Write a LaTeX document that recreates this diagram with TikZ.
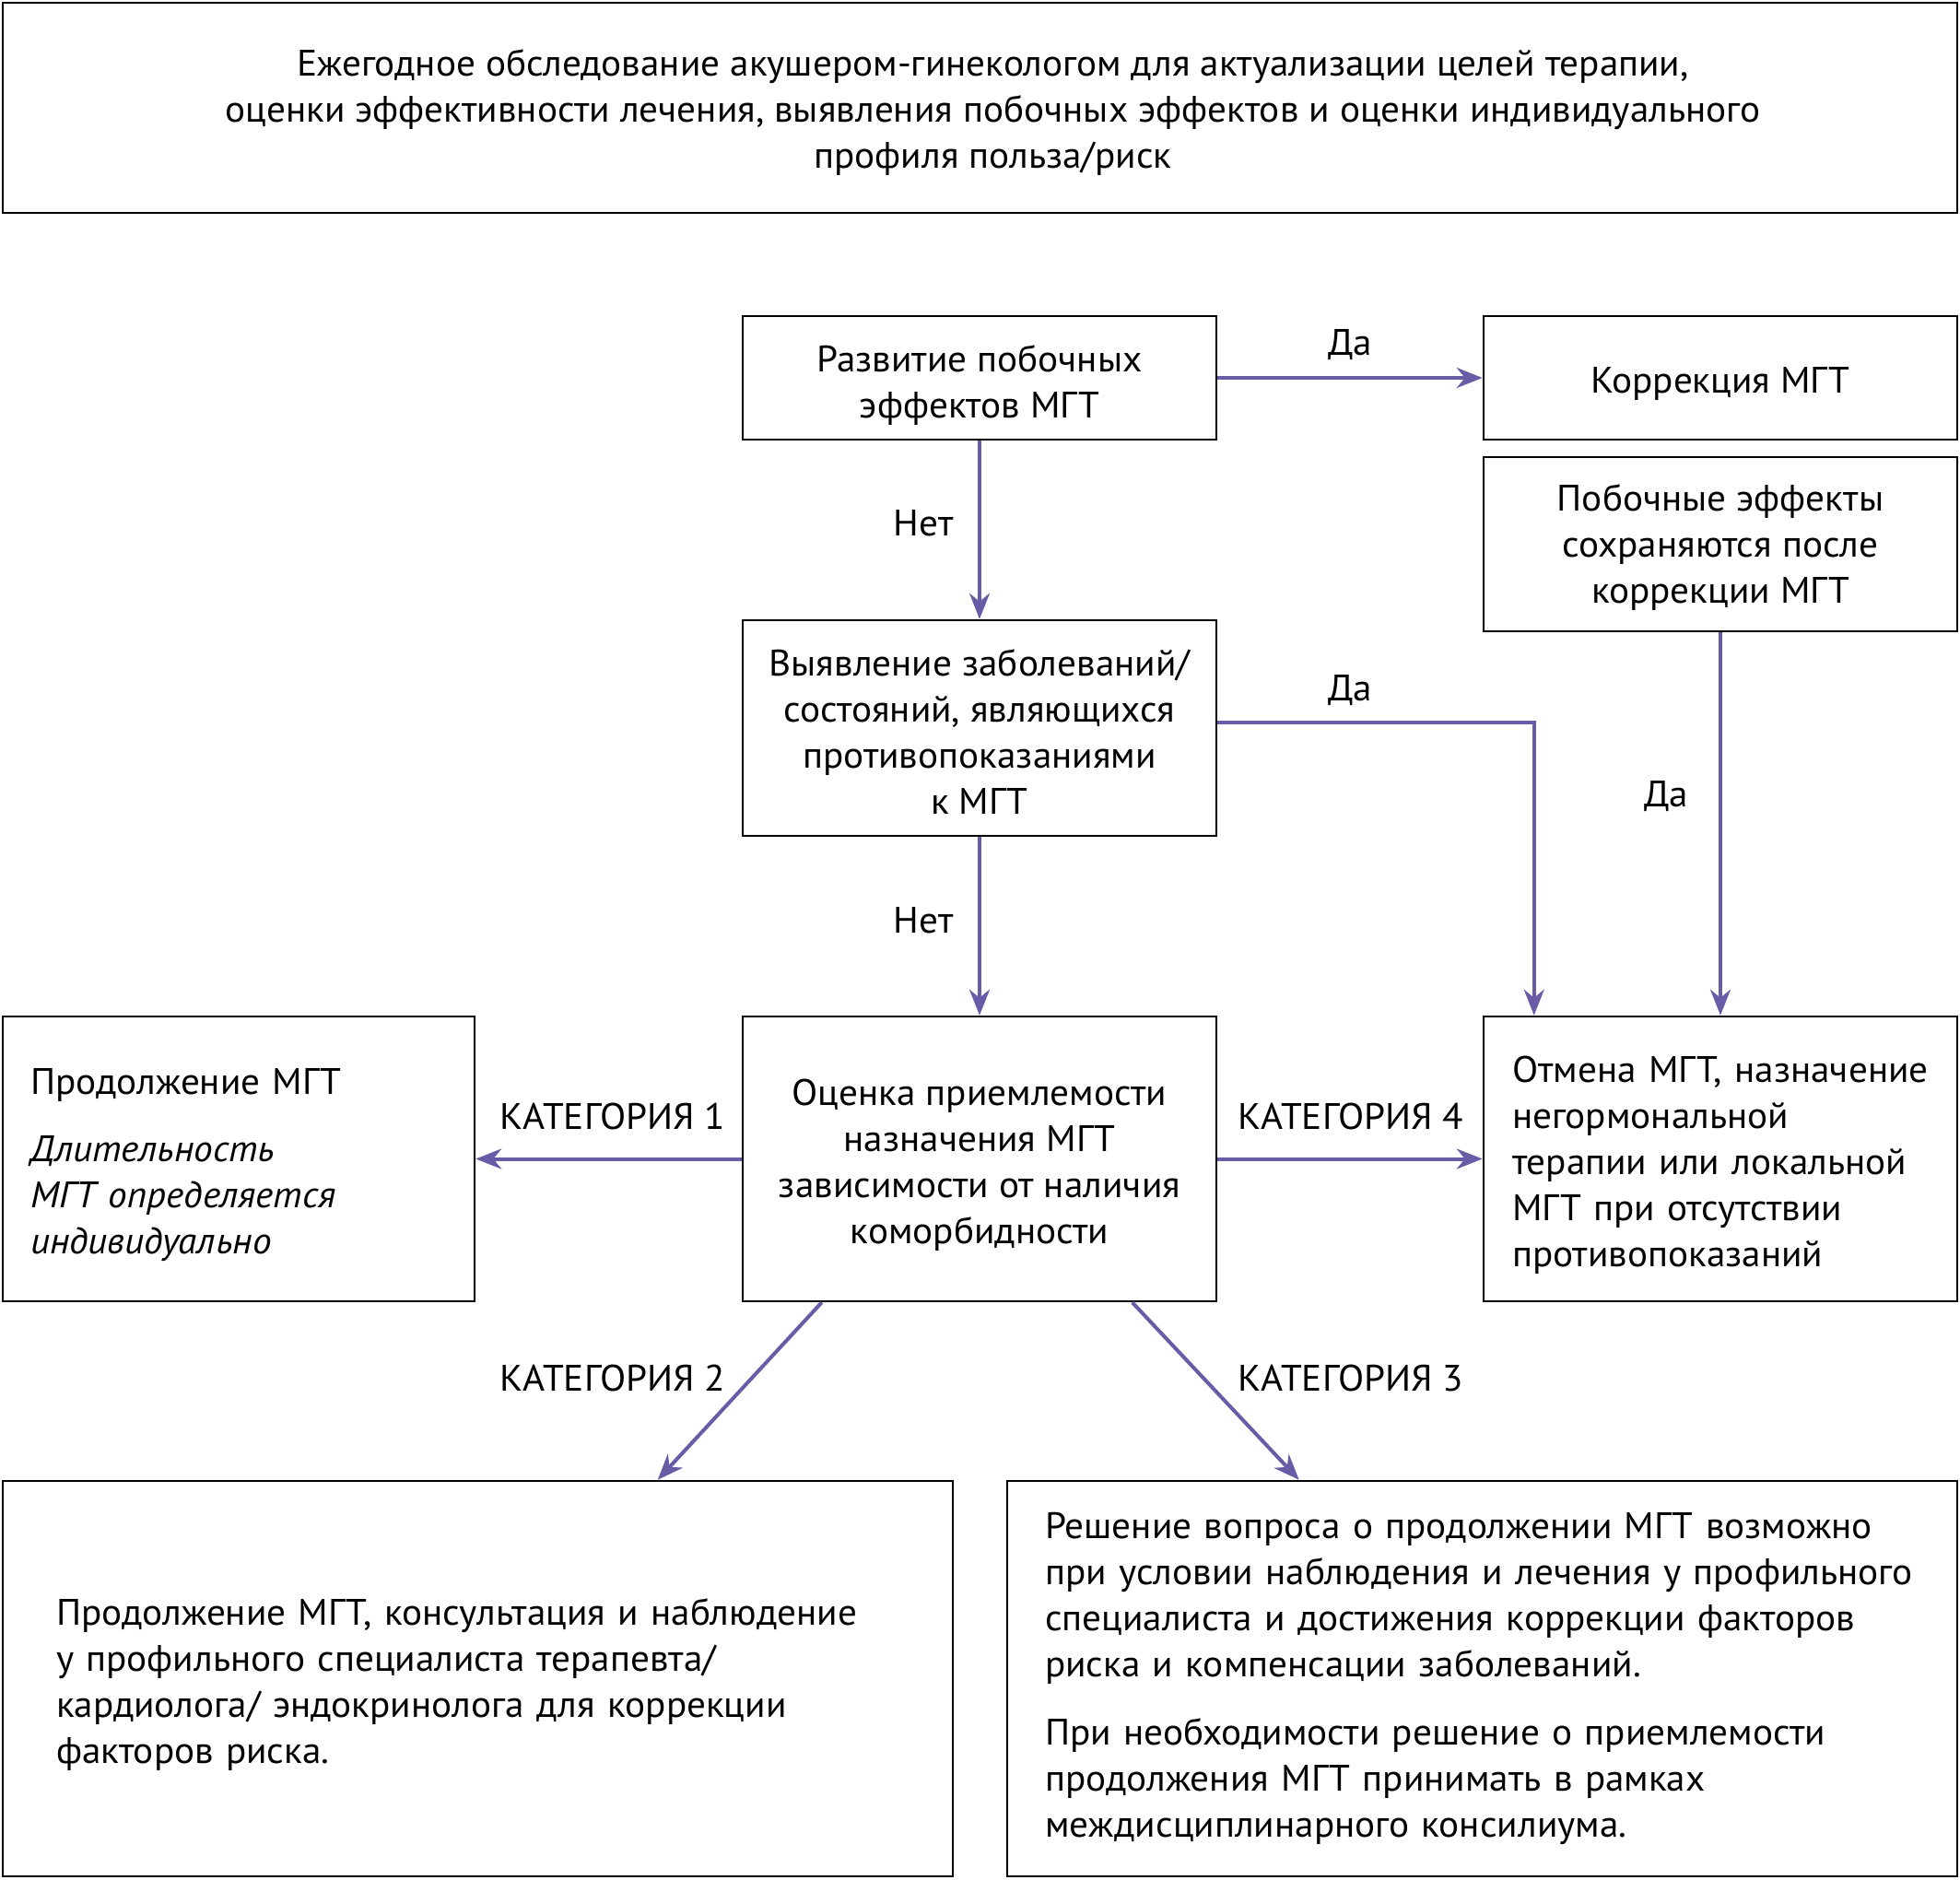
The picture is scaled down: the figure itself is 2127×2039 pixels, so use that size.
\documentclass[tikz,border=0pt]{standalone}
\usepackage{fontspec}
\setmainfont{PT Sans}[FakeStretch=1.03]
\usetikzlibrary{arrows.meta,calc}
\definecolor{arr}{RGB}{106,91,166}
\newcommand\myst[1]{\rule{0pt}{#1pt}}
\begin{document}
\begin{tikzpicture}[x=1pt,y=-1pt,
 box/.style={draw=black, line width=2.5pt, inner ysep=0pt, inner xsep=0pt, font=\fontsize{40}{50}\selectfont, align=center},
 lbox/.style={box, align=left},
 tshift/.style={execute at begin node={\rule{0pt}{41pt}}},
 lbl/.style={font=\fontsize{40}{50}\selectfont, inner sep=0pt},
 conn/.style={draw=arr, line width=4pt, -{Stealth[length=28pt,width=22pt,inset=9pt]}}]
\useasboundingbox (0,0) rectangle (2127,2039);
\fill[white] (0,0) rectangle (2127,2039);

\node[box, minimum width=2121pt, minimum height=228pt] (top) at (1063.5,117)
 {\hspace*{28pt}\myst{38}Ежегодное обследование акушером-гинекологом для актуализации целей терапии,\\
  \hspace*{28pt}оценки эффективности лечения, выявления побочных эффектов и оценки индивидуального\\
  \hspace*{28pt}профиля польза/риск};

\node[box, minimum width=514pt, minimum height=134pt] (A) at (1063,410) {\myst{44}Развитие побочных\\эффектов МГТ};
\node[box, tshift, minimum width=514pt, minimum height=134pt] (B) at (1867,410) {Коррекция МГТ};
\node[box, minimum width=514pt, minimum height=189pt] (C) at (1867,590.5) {\myst{36}Побочные эффекты\\сохраняются после\\коррекции МГТ};
\node[box, minimum width=514pt, minimum height=234pt] (D) at (1063,790) {\myst{36}Выявление заболеваний/\\состояний, являющихся\\противопоказаниями\\к МГТ};
\node[box, minimum width=514pt, minimum height=309pt] (E) at (1063,1257.5) {\myst{41}Оценка приемлемости\\назначения МГТ\\зависимости от наличия\\коморбидности};
\node[lbox, tshift, inner xsep=30pt, text width=452pt, minimum height=309pt] (F) at (259,1257.5)
 {Продолжение МГТ\\[23pt]\itshape Длительность\\МГТ определяется\\индивидуально};
\node[lbox, tshift, inner xsep=31pt, text width=452pt, minimum height=309pt] (G) at (1867,1257.5)
 {Отмена МГТ, назначение\\негормональной\\терапии или локальной\\МГТ при отсутствии\\противопоказаний};
\node[lbox, tshift, inner xsep=58pt, text width=915pt, minimum height=429pt] (H) at (518.5,1821.5)
 {Продолжение МГТ, консультация и наблюдение\\у профильного специалиста терапевта/\\кардиолога/ эндокринолога для коррекции\\факторов риска.};
\node[lbox, inner xsep=41pt, text width=949pt, minimum height=429pt] (I) at (1608.5,1821.5)
 {Решение вопроса о продолжении МГТ возможно\\при условии наблюдения и лечения у профильного\\специалиста и достижения коррекции факторов\\риска и компенсации заболеваний.\\[24pt]При необходимости решение о приемлемости\\продолжения МГТ принимать в рамках\\междисциплинарного консилиума.};

\draw[conn] (A) -- (B);
\draw[conn] (A) -- (D);
\draw[conn] (D) -- (E);
\draw[conn] ($(D.east)+(0,-6)$) -| ($(G.north west)+(56,0)$);
\draw[conn] (C) -- (G);
\draw[conn] (E) -- (F);
\draw[conn] (E) -- (G);
\draw[conn] ($(E.south west)+(87,0)$) -- ($(H.north west)+(712,0)$);
\draw[conn] ($(E.south west)+(424,0)$) -- ($(I.north west)+(318,0)$);

\node[lbl] (l1) at (1465,374) {Да};
\node[lbl] (l2) at (1002,568) {Нет};
\node[lbl] (l3) at (1465,749) {Да};
\node[lbl] (l4) at (1808,864) {Да};
\node[lbl] (l5) at (1002,999) {Нет};
\node[lbl] (k1) at (665,1211) {КАТЕГОРИЯ 1};
\node[lbl] (k4) at (1466,1211) {КАТЕГОРИЯ 4};
\node[lbl] (k2) at (665,1495) {КАТЕГОРИЯ 2};
\node[lbl] (k3) at (1466,1495) {КАТЕГОРИЯ 3};
\end{tikzpicture}
\end{document}
